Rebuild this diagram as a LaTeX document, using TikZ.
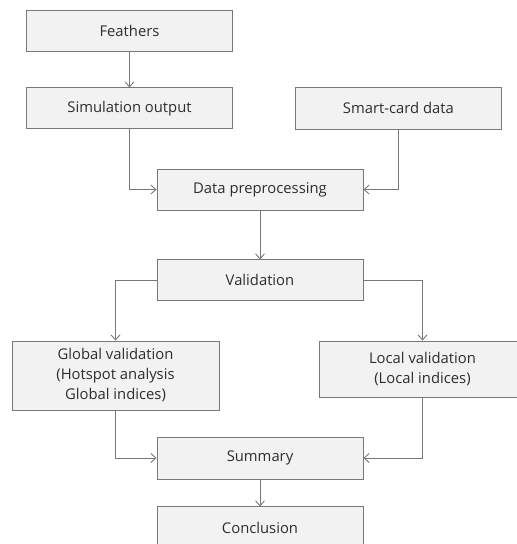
\documentclass[tikz,border=0pt]{standalone}
\usepackage{fontspec}
\setmainfont{Open Sans}
\usetikzlibrary{positioning,arrows.meta}
\definecolor{boxfill}{RGB}{242, 242, 242}
\definecolor{boxline}{RGB}{120, 120, 120}
\definecolor{textcolor}{RGB}{45, 45, 45}

\begin{document}
\begin{tikzpicture}[
    x=1pt, y=1pt,
    font=\fontsize{14.8}{20}\selectfont,
    box/.style={rectangle, draw=boxline, fill=boxfill, line width=0.9pt, text=textcolor,
        minimum width=206pt, minimum height=41pt, inner sep=2pt, align=center},
    arrow/.style={-{Straight Barb[length=5pt, width=9pt]}, draw=boxline, line width=0.9pt}
]
\useasboundingbox (0,0) rectangle (517,-544);

% Input side
\node[box] (feathers) at (129.5,-30.5) {Feathers};
\node[box, below=36pt of feathers] (sim) {Simulation output};
\node[box, minimum height=42pt, right=62pt of sim] (smart) {Smart-card data};

% Main column
\node[box] (prep) at (260,-189.5) {Data preprocessing};
\node[box, below=49pt of prep] (validation) {Validation};

% Validation branches
\node[box, minimum width=207pt, minimum height=69pt] (global) at (115.5,-375.5) {Global validation\\(Hotspot analysis\\Global indices)};
\node[box, minimum width=207pt, minimum height=56pt] (local) at (422.5,-369) {Local validation\\(Local indices)};

% Result
\node[box, minimum height=42pt] (summary) at (260,-458) {Summary};
\node[box, minimum height=42pt, below=27pt of summary] (conclusion) {Conclusion};

% Arrows
\draw[arrow] (feathers) -- (sim);
\draw[arrow] (sim.south) |- (prep.west);
\draw[arrow] (smart.south) |- (prep.east);
\draw[arrow] (prep) -- (validation);
\draw[arrow] (validation.west) -| (global.north);
\draw[arrow] (validation.east) -| (local.north);
\draw[arrow] (global.south) |- (summary.west);
\draw[arrow] (local.south) |- (summary.east);
\draw[arrow] (summary) -- (conclusion);

\end{tikzpicture}
\end{document}
